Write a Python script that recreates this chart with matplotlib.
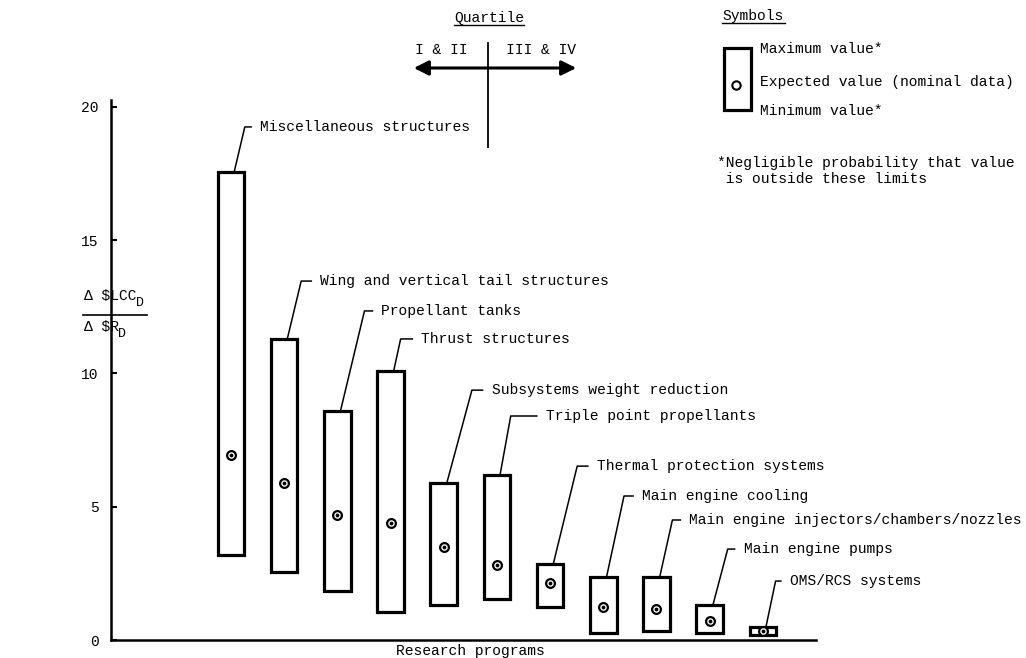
import matplotlib
matplotlib.use('Agg')
import matplotlib.pyplot as plt
from matplotlib.patches import Rectangle, FancyArrowPatch
from matplotlib.lines import Line2D

# research programs, left to right
programs = ['Miscellaneous structures', 'Wing and vertical tail structures',
            'Propellant tanks', 'Thrust structures', 'Subsystems weight reduction',
            'Triple point propellants', 'Thermal protection systems',
            'Main engine cooling', 'Main engine injectors/chambers/nozzles',
            'Main engine pumps', 'OMS/RCS systems']

# delta $LCC_D / delta $R_D
max_val = [17.55, 11.3, 8.6, 10.1, 5.9, 6.2, 2.85, 2.35, 2.35, 1.3, 0.5]
expected = [6.95, 5.9, 4.7, 4.4, 3.5, 2.8, 2.15, 1.25, 1.15, 0.7, 0.35]
min_val = [3.2, 2.55, 1.85, 1.05, 1.3, 1.55, 1.25, 0.25, 0.35, 0.25, 0.2]

yticks = [0, 5, 10, 15, 20]

# label layout (leader knee / text offset in x units, label height in y units)
knee_dx = [0.26, 0.32, 0.51, 0.19, 0.53, 0.26, 0.51, 0.39, 0.30, 0.34, 0.24]
text_dx = [0.55, 0.68, 0.83, 0.58, 0.90, 0.92, 0.88, 0.73, 0.62, 0.64, 0.51]
label_y = [19.24, 13.46, 12.34, 11.29, 9.37, 8.40, 6.52, 5.40, 4.50, 3.41, 2.21]

FONT = 'Liberation Mono'
FS = 10.5
W, H = 1026, 658

fig = plt.figure(figsize=(W / 100, H / 100), dpi=100)
ax = fig.add_axes([111 / W, 18 / H, 705 / W, 540 / H])

x = list(range(len(programs)))
heights = [hi - lo for hi, lo in zip(max_val, min_val)]

ax.bar(x, heights, bottom=min_val, width=0.5, facecolor='white',
       edgecolor='black', linewidth=2.3, zorder=3)
ax.scatter(x, expected, s=40, facecolor='white', edgecolor='black',
           linewidth=1.6, zorder=4)
ax.scatter(x, expected, s=3, color='black', zorder=5)

# leader lines and labels
for i, name in enumerate(programs):
    xk = i + knee_dx[i]
    xh = i + text_dx[i] - 0.17
    ax.plot([i + 0.06, xk, xh], [max_val[i], label_y[i], label_y[i]],
            color='black', linewidth=1.1, zorder=2)
    ax.text(i + text_dx[i], label_y[i], name, family=FONT, fontsize=FS,
            va='center', ha='left')

ax.set_xlim(-2.256, 11.0)
ax.set_ylim(0, 20.25)
ax.set_yticks(yticks)
ax.set_xticks([])
ax.tick_params(axis='y', direction='in', length=4, width=1.5, pad=9)
for lab in ax.get_yticklabels():
    lab.set_family(FONT)
    lab.set_fontsize(FS)
for side in ['top', 'right']:
    ax.spines[side].set_visible(False)
for side in ['left', 'bottom']:
    ax.spines[side].set_linewidth(1.8)

# x axis label
fig.text(470 / W, 1 - 651 / H, 'Research programs', family=FONT, fontsize=FS,
         ha='center', va='center')

# y axis label as fraction
def ftext(px, py, s, **kw):
    fig.text(px / W, 1 - py / H, s, family=FONT, va='center', **kw)

def fline(xs, ys, lw=1.2):
    fig.add_artist(Line2D([p / W for p in xs], [1 - p / H for p in ys],
                          color='black', linewidth=lw))

ftext(84, 296, 'Δ $LCC', fontsize=FS)
ftext(136, 303, 'D', fontsize=9.5)
fline([83, 147], [315, 315])
ftext(84, 327, 'Δ $R', fontsize=FS)
ftext(118, 334, 'D', fontsize=9.5)

# quartile marker
ftext(489, 18, 'Quartile', fontsize=FS, ha='center')
fline([454, 524], [25, 25], lw=1.0)
ftext(441, 50, 'I & II', fontsize=FS, ha='center')
ftext(541, 50, 'III & IV', fontsize=FS, ha='center')
fig.add_artist(FancyArrowPatch((411 / W, 1 - 68 / H), (579 / W, 1 - 68 / H),
                               transform=fig.transFigure, arrowstyle='<|-|>',
                               mutation_scale=22, color='black', linewidth=2.2))
fline([488, 488], [43, 147], lw=1.3)

# symbols key
ftext(722, 16, 'Symbols', fontsize=FS, ha='left')
fline([722, 785], [23, 23], lw=1.0)
fig.add_artist(Rectangle((724 / W, 1 - 110 / H), 27 / W, 62 / H,
                         transform=fig.transFigure, facecolor='white',
                         edgecolor='black', linewidth=2.3))
fig.add_artist(Line2D([736 / W], [1 - 85 / H], marker='o', markersize=6,
                      markerfacecolor='white', markeredgecolor='black',
                      markeredgewidth=1.5, transform=fig.transFigure))
ftext(760, 49, 'Maximum value*', fontsize=FS, ha='left')
ftext(760, 82, 'Expected value (nominal data)', fontsize=FS, ha='left')
ftext(760, 111, 'Minimum value*', fontsize=FS, ha='left')
ftext(717, 163, '*Negligible probability that value', fontsize=FS, ha='left')
ftext(717, 179, ' is outside these limits', fontsize=FS, ha='left')

fig.savefig('out.png', dpi=100)
